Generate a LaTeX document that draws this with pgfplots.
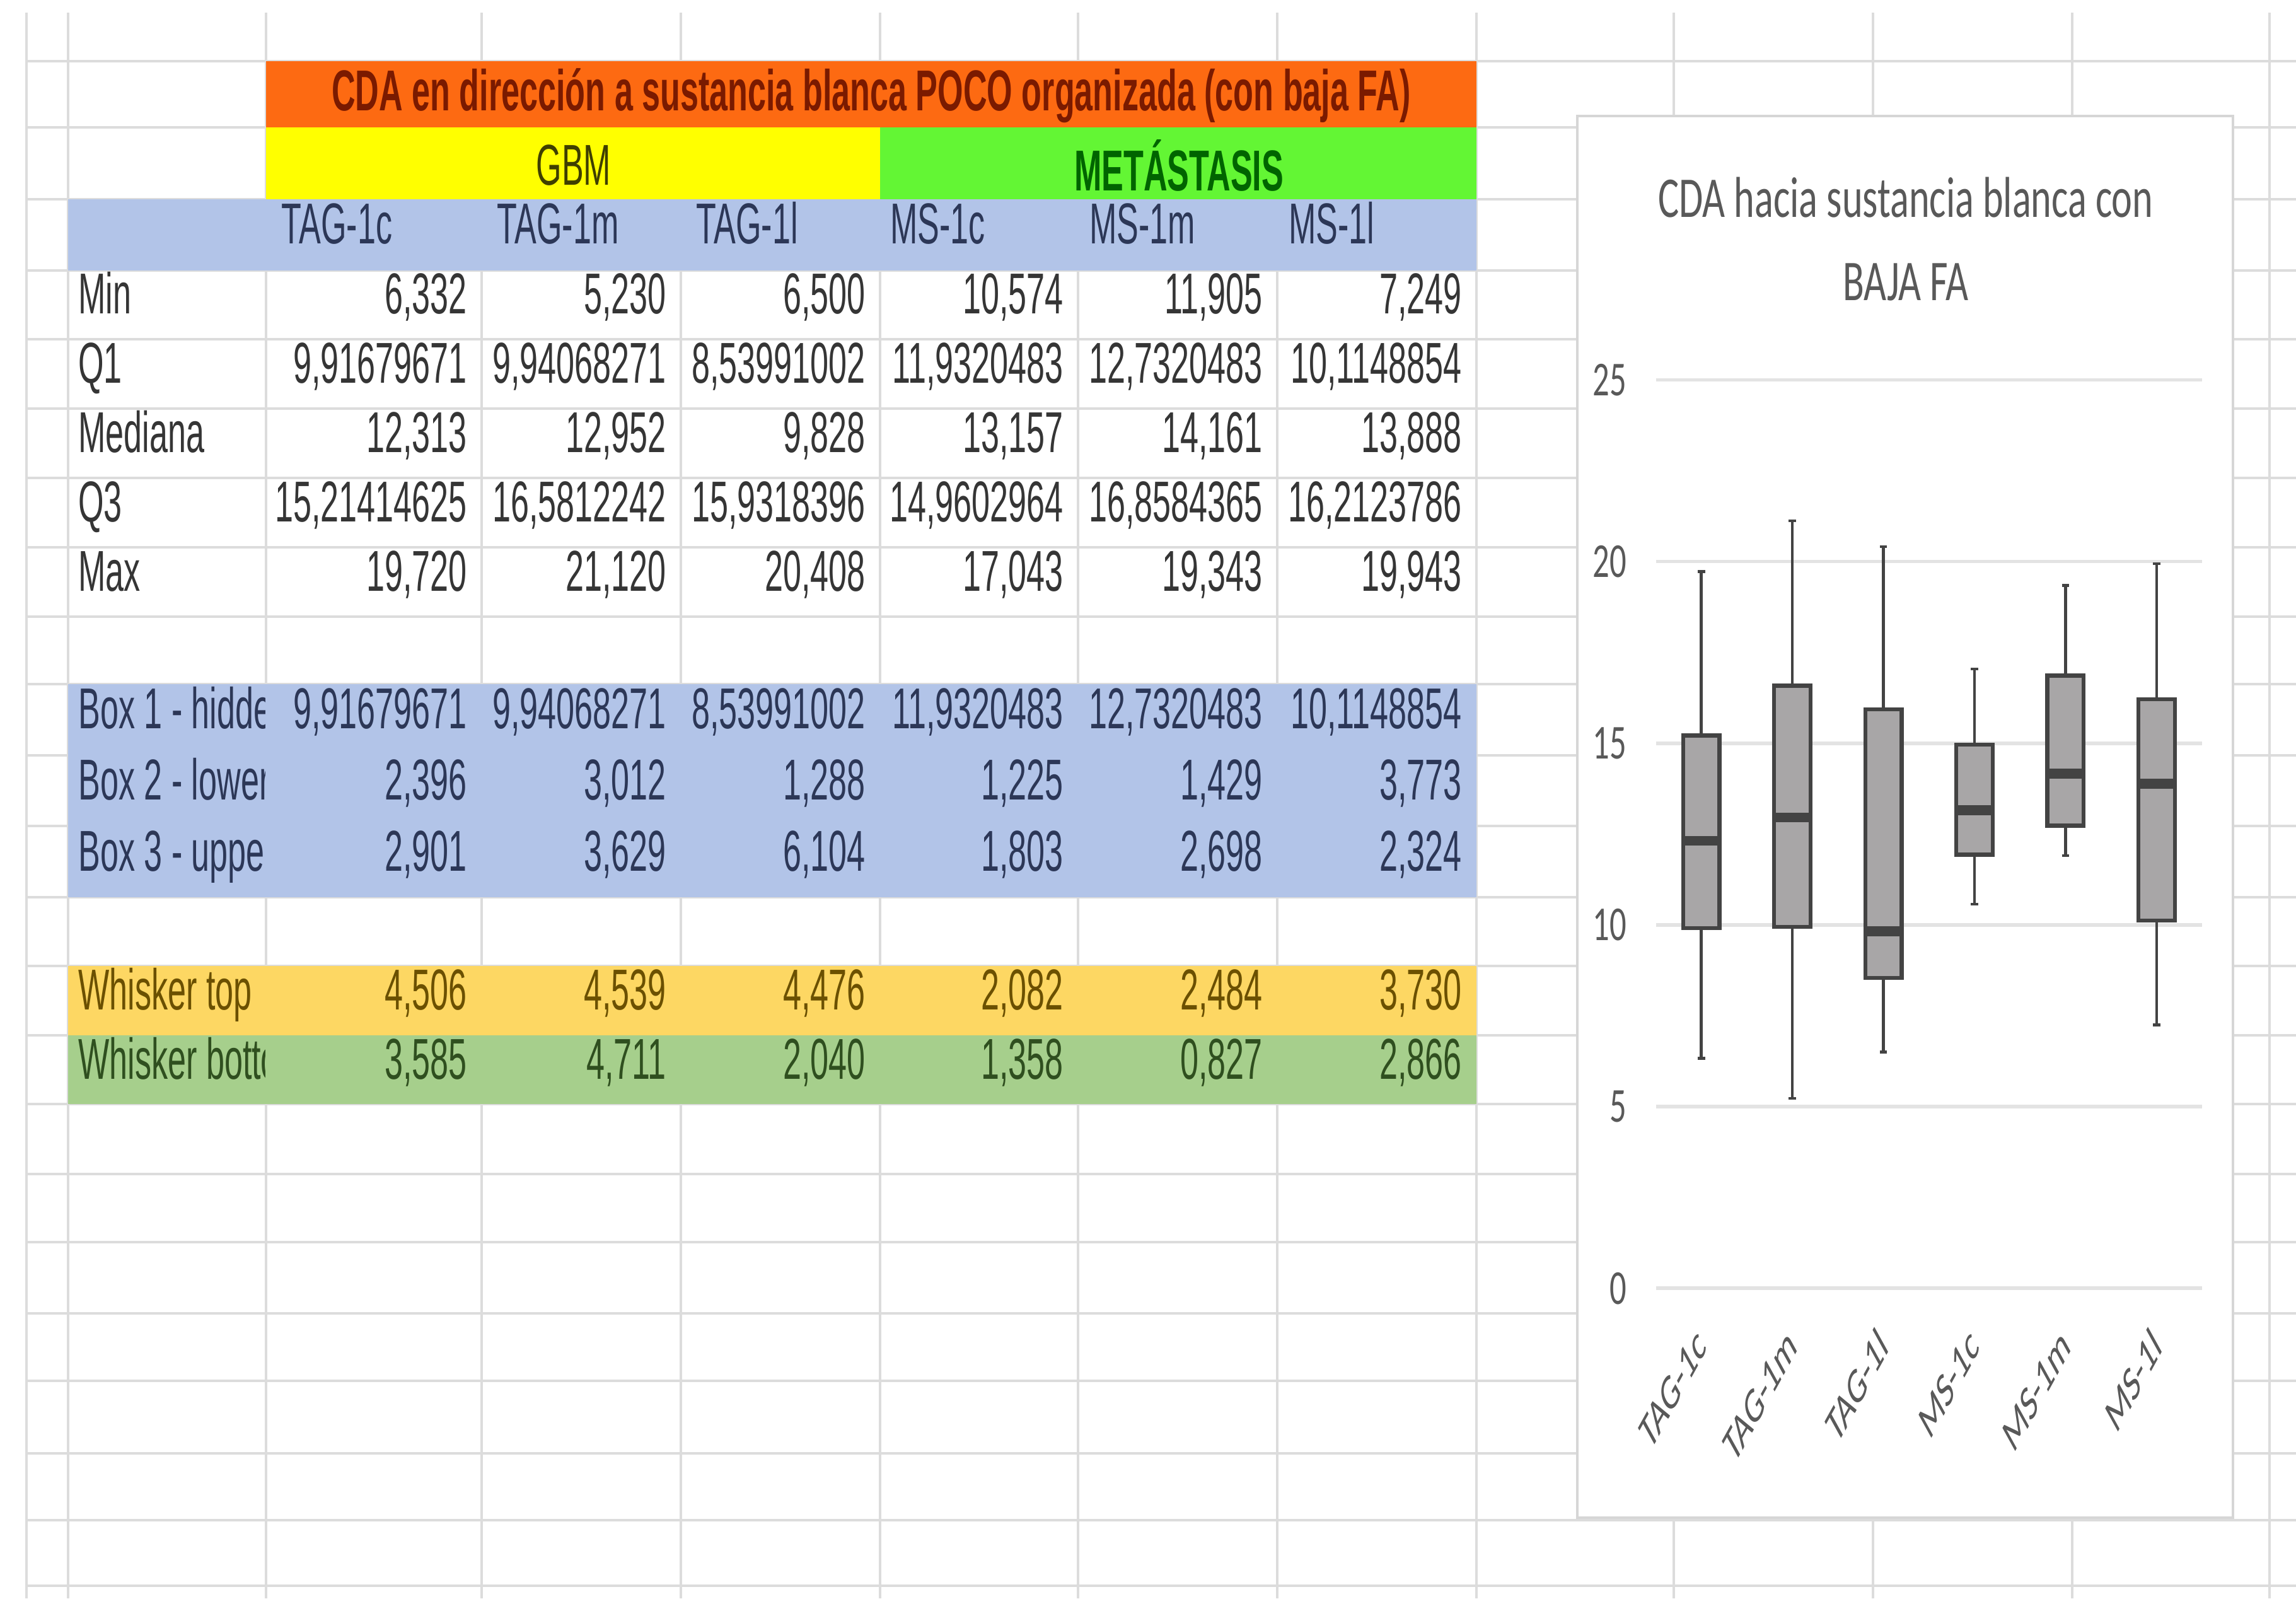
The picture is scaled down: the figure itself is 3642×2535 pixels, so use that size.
\documentclass[border=0pt]{standalone}
\usepackage{fontspec}
\usepackage{pgfplots}
\pgfplotsset{compat=1.18}
\usepgfplotslibrary{statistics}
\setmainfont{Liberation Sans}
\newfontfamily\cellfont[FakeStretch=0.57]{Liberation Sans}
\newfontfamily\chartfont[FakeStretch=0.68]{Carlito}
\newfontfamily\labfont{Carlito}

\definecolor{gridc}{HTML}{DCDCDC}
\definecolor{orangeT}{HTML}{FD6A12}
\definecolor{titleT}{HTML}{7A1A00}
\definecolor{yellowT}{HTML}{FFFF00}
\definecolor{gbmT}{HTML}{3F3F00}
\definecolor{greenT}{HTML}{63F634}
\definecolor{metT}{HTML}{006400}
\definecolor{blueT}{HTML}{B2C4E8}
\definecolor{navyT}{HTML}{2C3757}
\definecolor{numc}{HTML}{353535}
\definecolor{goldT}{HTML}{FDD763}
\definecolor{goldtxt}{HTML}{6B5000}
\definecolor{greenW}{HTML}{A6CF8C}
\definecolor{greenWtxt}{HTML}{2F4F1F}
\definecolor{chartgrid}{HTML}{E3E3E3}
\definecolor{chartTxt}{HTML}{595959}
\definecolor{boxfill}{HTML}{A8A6A7}
\definecolor{boxdraw}{HTML}{434343}
\definecolor{panelB}{HTML}{D6D6D6}

\newcommand\datarow[7]{%
  \node[anchor=mid east] at (753,#1) {#2};
  \node[anchor=mid east] at (1069,#1) {#3};
  \node[anchor=mid east] at (1385,#1) {#4};
  \node[anchor=mid east] at (1699,#1) {#5};
  \node[anchor=mid east] at (2015,#1) {#6};
  \node[anchor=mid east] at (2331,#1) {#7};}

\begin{document}
\begin{tikzpicture}
\begin{scope}[x=0.01cm,y=-0.01cm]
\path[use as bounding box, fill=white] (0,0) rectangle (3642,2535);
% spreadsheet grid
\foreach \yy in {97,202,316,429,538,648,758,868,978,1085,1198,1310,1423,1532,1642,1751,1862,1970,2083,2190,2305,2411,2515}
  \draw[gridc, line width=0.9pt] (42,\yy) -- (3642,\yy);
\foreach \xx in {42,108,422,764,1080,1396,1710,2026,2342,2655,2971,3287,3600}
  \draw[gridc, line width=0.9pt] (\xx,20) -- (\xx,2535);
% coloured cells
\fill[orangeT] (422,97) rectangle (2342,202);
\fill[yellowT] (422,202) rectangle (1396,316);
\fill[greenT] (1396,202) rectangle (2342,316);
\fill[blueT] (108,316) rectangle (2342,429);
\fill[blueT] (108,1085) rectangle (2342,1423);
\fill[goldT] (108,1532) rectangle (2342,1642);
\fill[greenW] (108,1642) rectangle (2342,1751);
% header texts
\node[font=\cellfont\fontsize{26}{30}\selectfont\bfseries, text=titleT] at (1382,152) {CDA en dirección a sustancia blanca POCO organizada (con baja FA)};
\node[font=\cellfont\fontsize{26}{30}\selectfont, text=gbmT] at (910,262) {GBM};
\node[font=\cellfont\fontsize{26}{30}\selectfont\bfseries, text=metT] at (1870,262) {METÁSTASIS};
\begin{scope}[font=\cellfont\fontsize{26}{30}\selectfont, every node/.style={text=navyT}]
\node[anchor=mid west] at (434,377) {TAG-1c};
\node[anchor=mid west] at (776,377) {TAG-1m};
\node[anchor=mid west] at (1092,377) {TAG-1l};
\node[anchor=mid west] at (1400,377) {MS-1c};
\node[anchor=mid west] at (1716,377) {MS-1m};
\node[anchor=mid west] at (2032,377) {MS-1l};
\end{scope}
% row labels (clipped at the column border)
\begin{scope}[font=\cellfont\fontsize{26}{30}\selectfont]
\clip (108,0) rectangle (420,2535);
\begin{scope}[every node/.style={text=numc}]
\node[anchor=mid west] at (112,488) {Min};
\node[anchor=mid west] at (112,598) {Q1};
\node[anchor=mid west] at (112,708) {Mediana};
\node[anchor=mid west] at (112,818) {Q3};
\node[anchor=mid west] at (112,928) {Max};
\end{scope}
\begin{scope}[every node/.style={text=navyT}]
\node[anchor=mid west] at (112,1146) {Box 1 - hidden};
\node[anchor=mid west] at (112,1259) {Box 2 - lower};
\node[anchor=mid west] at (112,1372) {Box 3 - upper};
\end{scope}
\node[anchor=mid west, text=goldtxt] at (112,1592) {Whisker top};
\node[anchor=mid west, text=greenWtxt] at (112,1702) {Whisker bottom};
\end{scope}
% numbers
\begin{scope}[font=\cellfont\fontsize{26}{30}\selectfont, every node/.style={text=numc}]
\datarow{488}{6,332}{5,230}{6,500}{10,574}{11,905}{7,249}
\datarow{598}{9,91679671}{9,94068271}{8,53991002}{11,9320483}{12,7320483}{10,1148854}
\datarow{708}{12,313}{12,952}{9,828}{13,157}{14,161}{13,888}
\datarow{818}{15,21414625}{16,5812242}{15,9318396}{14,9602964}{16,8584365}{16,2123786}
\datarow{928}{19,720}{21,120}{20,408}{17,043}{19,343}{19,943}
\end{scope}
\begin{scope}[font=\cellfont\fontsize{26}{30}\selectfont, every node/.style={text=navyT}]
\datarow{1146}{9,91679671}{9,94068271}{8,53991002}{11,9320483}{12,7320483}{10,1148854}
\datarow{1259}{2,396}{3,012}{1,288}{1,225}{1,429}{3,773}
\datarow{1372}{2,901}{3,629}{6,104}{1,803}{2,698}{2,324}
\end{scope}
\begin{scope}[font=\cellfont\fontsize{26}{30}\selectfont, every node/.style={text=goldtxt}]
\datarow{1592}{4,506}{4,539}{4,476}{2,082}{2,484}{3,730}
\end{scope}
\begin{scope}[font=\cellfont\fontsize{26}{30}\selectfont, every node/.style={text=greenWtxt}]
\datarow{1702}{3,585}{4,711}{2,040}{1,358}{0,827}{2,866}
\end{scope}
% chart panel
\draw[panelB, fill=white, line width=1.2pt] (2502,184) rectangle (3542,2407);
\node[font=\chartfont\fontsize{26}{30}\selectfont, text=chartTxt] at (3023,313) {CDA hacia sustancia blanca con};
\node[font=\chartfont\fontsize{26}{30}\selectfont, text=chartTxt] at (3023,447) {BAJA FA};
\end{scope}

\begin{axis}[
  at={(26.25cm,-20.42cm)}, anchor=south west, scale only axis,
  width=8.66cm, height=14.40cm,
  xmin=-0.5, xmax=5.5, ymin=0, ymax=25,
  ytick={0,5,10,15,20,25},
  xtick={0,1,2,3,4,5},
  xticklabels={TAG-1c,TAG-1m,TAG-1l,MS-1c,MS-1m,MS-1l},
  /pgf/number format/assume math mode=true,
  axis line style={draw=none},
  major tick length=0pt,
  ymajorgrids,
  grid style={line width=1.6pt, color=chartgrid},
  yticklabel style={font=\chartfont\fontsize{22}{24}\selectfont, text=chartTxt, anchor=east, inner sep=0pt, xshift=-13pt},
  xticklabel style={font=\labfont\fontsize{23}{26}\selectfont, text=chartTxt, anchor=east, inner sep=0pt, cm={0.39,0.707,-0.39,0.707,(0,0)}},
  xticklabel shift=22pt,
  boxplot/draw direction=y,
  boxplot/box extend=0.4,
  boxplot/whisker extend=0.08,
  clip=false,
]
\pgfplotsset{
  boxplot/every box/.style={fill=boxfill, draw=boxdraw, line width=1.8pt},
  boxplot/every median/.style={draw=boxdraw, line width=4.4pt},
  boxplot/every whisker/.style={draw=boxdraw, line width=1.3pt},
}
\addplot[draw=boxdraw, boxplot prepared={draw position=0, lower whisker=6.332, lower quartile=9.91679671, median=12.313, upper quartile=15.21414625, upper whisker=19.720}] coordinates {};
\addplot[draw=boxdraw, boxplot prepared={draw position=1, lower whisker=5.230, lower quartile=9.94068271, median=12.952, upper quartile=16.5812242, upper whisker=21.120}] coordinates {};
\addplot[draw=boxdraw, boxplot prepared={draw position=2, lower whisker=6.500, lower quartile=8.53991002, median=9.828, upper quartile=15.9318396, upper whisker=20.408}] coordinates {};
\addplot[draw=boxdraw, boxplot prepared={draw position=3, lower whisker=10.574, lower quartile=11.9320483, median=13.157, upper quartile=14.9602964, upper whisker=17.043}] coordinates {};
\addplot[draw=boxdraw, boxplot prepared={draw position=4, lower whisker=11.905, lower quartile=12.7320483, median=14.161, upper quartile=16.8584365, upper whisker=19.343}] coordinates {};
\addplot[draw=boxdraw, boxplot prepared={draw position=5, lower whisker=7.249, lower quartile=10.1148854, median=13.888, upper quartile=16.2123786, upper whisker=19.943}] coordinates {};
\end{axis}
\end{tikzpicture}
\end{document}
